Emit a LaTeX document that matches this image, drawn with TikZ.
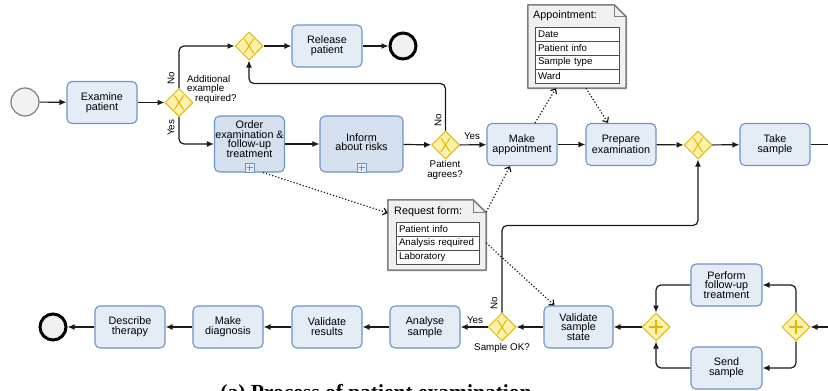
\documentclass[tikz,border=0pt]{standalone}
\usepackage{fontspec}
\setmainfont{Liberation Sans}
\newfontfamily\capfont{Liberation Serif}
\usetikzlibrary{arrows.meta,shapes.geometric}
\definecolor{taskfill}{HTML}{E4ECF6}
\definecolor{subfill}{HTML}{D5E0EE}
\definecolor{taskdraw}{HTML}{6D93C7}
\definecolor{gwfill}{HTML}{FFF2A8}
\definecolor{gwdraw}{HTML}{E3B50A}
\definecolor{datafill}{HTML}{F0F0F0}
\definecolor{datadraw}{HTML}{7F7F7F}
\definecolor{flowc}{HTML}{1A1A1A}
\begin{document}
\begin{tikzpicture}[x=1pt,y=-1pt,
 task/.style={draw=taskdraw, fill=taskfill, rounded corners=5pt, line width=1.1pt, minimum width=70pt, minimum height=42pt, align=center, font=\fontsize{10.8}{9.8}\selectfont, inner sep=1pt},
 subtask/.style={task, fill=subfill, minimum height=56pt},
 ttext/.style={align=center, font=\fontsize{10.8}{9.6}\selectfont, inner sep=0pt},
 gw/.style={diamond, draw=gwdraw, fill=gwfill, line width=1pt, minimum width=28pt, minimum height=28pt, inner sep=0pt},
 xgw/.style={gw, path picture={\draw[gwdraw, line width=1pt]
   ([shift={(-4.5pt,-7pt)}]path picture bounding box.center) -- ([shift={(4.5pt,7pt)}]path picture bounding box.center)
   ([shift={(-4.5pt,7pt)}]path picture bounding box.center) -- ([shift={(4.5pt,-7pt)}]path picture bounding box.center);}},
 pgw/.style={gw, path picture={\draw[gwdraw, line width=1.1pt]
   ([shift={(-7pt,0pt)}]path picture bounding box.center) -- ([shift={(7pt,0pt)}]path picture bounding box.center)
   ([shift={(0pt,-7pt)}]path picture bounding box.center) -- ([shift={(0pt,7pt)}]path picture bounding box.center);}},
 submark/.style={draw=taskdraw, fill=taskfill, line width=0.8pt, minimum size=9pt, inner sep=0pt, anchor=south,
   path picture={\draw[taskdraw, line width=0.8pt]
   ([shift={(-3pt,0pt)}]path picture bounding box.center) -- ([shift={(3pt,0pt)}]path picture bounding box.center)
   ([shift={(0pt,-3pt)}]path picture bounding box.center) -- ([shift={(0pt,3pt)}]path picture bounding box.center);}},
 startev/.style={circle, draw=black!50, fill=black!5, line width=1.2pt, minimum size=28pt, inner sep=0pt},
 endev/.style={circle, draw=black, fill=black!6, line width=3pt, minimum size=26pt, inner sep=0pt},
 flow/.style={draw=flowc, line width=1.2pt, rounded corners=5pt, -{Latex[length=7pt,width=6pt]}},
 plainflow/.style={draw=flowc, line width=1.2pt},
 assoc/.style={draw=flowc, dotted, line width=1.2pt, -{Straight Barb[length=4pt,width=7pt]}},
 lbl/.style={font=\fontsize{9.8}{9.5}\selectfont, inner sep=0pt},
 dataobj/.style={inner sep=0pt},
 dtitle/.style={font=\fontsize{10.8}{11}\selectfont, inner sep=0pt, anchor=west},
 drow/.style={draw=black!70, fill=white, line width=0.7pt, minimum width=84pt, minimum height=14pt, text width=78pt, align=left, inner xsep=3pt, inner ysep=0pt, font=\fontsize{9.7}{10}\selectfont},
]
\useasboundingbox (0,0) rectangle (828,391);
\clip (0,0) rectangle (828,391);

% ---------- top row ----------
\node[startev] (start) at (25,102) {};
\node[task] (examine) at (102,102.5) {Examine\\patient};
\node[xgw] (g1) at (179,102.5) {};
\node[xgw] (g2) at (249,46) {};
\node[task] (release) at (327,46) {Release\\patient};
\node[endev] (end1) at (403,46) {};

\node[subtask] (order) at (249.5,144) {};
\node[ttext] (ordert) at (249.5,139) {Order\\examination \&\\follow-up\\treatment};
\node[submark] (orderm) at (order.south) {};
\node[subtask, minimum width=83pt] (inform) at (361.5,144) {};
\node[ttext] (informt) at (361.5,142) {Inform\\about risks};
\node[submark] (informm) at (inform.south) {};

\node[xgw] (g3) at (445.5,145) {};
\node[task] (make) at (522,144.5) {Make\\appointment};
\node[task] (prep) at (621,144.5) {Prepare\\examination};
\node[xgw] (g4) at (698,145) {};
\node[task] (take) at (775,144.5) {Take\\sample};
\coordinate (out1) at (828,144.5);

% ---------- data objects ----------
\node[dataobj, minimum width=98pt, minimum height=83pt] (appt) at (577,46.5) {};
\draw[draw=datadraw, fill=datafill, line width=1.6pt, line join=round]
  (appt.north west) -- ([xshift=-12pt]appt.north east) -- ([yshift=-12pt]appt.north east)
  -- (appt.south east) -- (appt.south west) -- cycle;
\draw[draw=datadraw, line width=1.2pt] ([xshift=-12pt]appt.north east) |- ([yshift=-12pt]appt.north east);
\node[dtitle] (apptt) at (533,16) {Appointment:};
\node[drow] (a1) at (577,34) {Date};
\node[drow] (a2) at (577,48) {Patient info};
\node[drow] (a3) at (577,62) {Sample type};
\node[drow] (a4) at (577,76) {Ward};

\node[dataobj, minimum width=98pt, minimum height=70pt] (reqf) at (437,235) {};
\draw[draw=datadraw, fill=datafill, line width=1.6pt, line join=round]
  (reqf.north west) -- ([xshift=-13pt]reqf.north east) -- ([yshift=-13pt]reqf.north east)
  -- (reqf.south east) -- (reqf.south west) -- cycle;
\draw[draw=datadraw, line width=1.2pt] ([xshift=-13pt]reqf.north east) |- ([yshift=-13pt]reqf.north east);
\node[dtitle] (reqft) at (394,212) {Request form:};
\node[drow, minimum width=83pt, text width=77pt] (r1) at (437.5,229) {Patient info};
\node[drow, minimum width=83pt, text width=77pt] (r2) at (437.5,243) {Analysis required};
\node[drow, minimum width=83pt, text width=77pt] (r3) at (437.5,257) {Laboratory};

% ---------- bottom row ----------
\node[endev] (end2) at (53,327) {};
\node[task] (describe) at (130,327) {Describe\\therapy};
\node[task] (diag) at (228,327) {Make\\diagnosis};
\node[task] (valres) at (327,327) {Validate\\results};
\node[task] (analyse) at (425,327) {Analyse\\sample};
\node[xgw] (g5) at (502,327) {};
\node[task, minimum width=69pt] (vss) at (578.5,327) {Validate\\sample\\state};
\node[pgw] (join) at (656,327) {};
\node[task, minimum width=71pt] (perform) at (726.5,285) {Perform\\follow-up\\treatment};
\node[task, minimum width=71pt] (send) at (726.5,368) {Send\\sample};
\node[pgw] (split) at (796,327) {};
\coordinate (in1) at (828,327);

% ---------- sequence flows ----------
\draw[flow] (start) -- (examine);
\draw[flow] (examine) -- (g1);
\draw[flow] (g1.north) |- (g2.west);
\draw[flow] (g1.south) |- (order.west);
\draw[flow] (g2) -- (release);
\draw[flow] (release) -- (end1);
\draw[flow] (order) -- (inform);
\draw[flow] (inform) -- (g3);
\draw[flow] (g3.north) -- ++(0,-47) -| (g2.south);
\draw[flow] (g3) -- (make);
\draw[flow] (make) -- (prep);
\draw[flow] (prep) -- (g4);
\draw[flow] (g4) -- (take);
\draw[plainflow] (take) -- (out1);

\draw[flow] (in1) -- (split);
\draw[flow] (split.north) |- (perform.east);
\draw[flow] (split.south) |- (send.east);
\draw[flow] (perform.west) -| (join.north);
\draw[flow] (send.west) -| (join.south);
\draw[flow] (join) -- (vss);
\draw[flow] (vss) -- (g5);
\draw[flow] (g5) -- (analyse);
\draw[flow] (analyse) -- (valres);
\draw[flow] (valres) -- (diag);
\draw[flow] (diag) -- (describe);
\draw[flow] (describe) -- (end2);
\draw[flow] (g5.north) -- ++(0,-87) -| (g4.south);

% ---------- associations ----------
\draw[assoc] ([xshift=13.5pt]order.south) -- ([yshift=22pt]reqf.west);
\draw[assoc] ([yshift=23pt]reqf.east) -- ([xshift=-12pt]make.south);
\draw[assoc] ([yshift=-8pt]reqf.east) -- ([xshift=-24pt]vss.north);
\draw[assoc] ([xshift=13pt]make.north) -- ([xshift=-21pt]appt.south);
\draw[assoc] ([xshift=9pt]appt.south) -- ([xshift=-13pt]prep.north);

% ---------- labels ----------
\node[lbl, rotate=90] (no1) at (171,78) {No};
\node[lbl, rotate=90] (yes1) at (171,128) {Yes};
\node[lbl, align=left, anchor=north west] (q1) at (187,75) {Additional\\example\\\hspace*{8pt}required?};
\node[lbl, rotate=90] (no2) at (438,120) {No};
\node[lbl] (yes2) at (472,136) {Yes};
\node[lbl, align=center] (q2) at (445,170) {Patient\\agrees?};
\node[lbl] (yes3) at (475,320) {Yes};
\node[lbl, rotate=90] (no3) at (494,303) {No};
\node[lbl] (q3) at (502,348) {Sample OK?};

\node[font=\capfont\bfseries\fontsize{21.5}{24}\selectfont, anchor=base, inner sep=0pt] (cap) at (376,399) {(a) Process of patient examination};
\end{tikzpicture}
\end{document}
